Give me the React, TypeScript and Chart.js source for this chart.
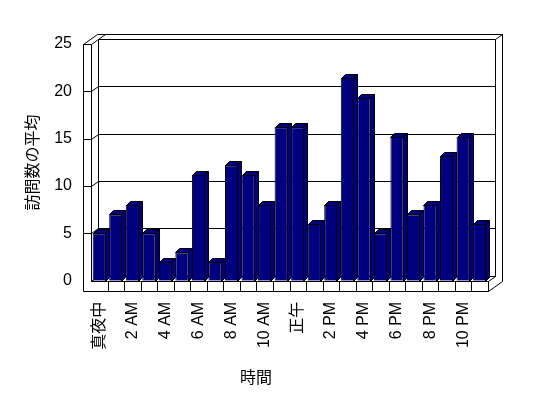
import React, { useEffect, useRef } from 'react';
import { Chart, registerables } from 'chart.js';

Chart.register(...registerables);

// ---- data ----
const hours = [
  '真夜中', '1 AM', '2 AM', '3 AM', '4 AM', '5 AM', '6 AM', '7 AM', '8 AM', '9 AM', '10 AM', '11 AM',
  '正午', '1 PM', '2 PM', '3 PM', '4 PM', '5 PM', '6 PM', '7 PM', '8 PM', '9 PM', '10 PM', '11 PM',
];
const visits = [5, 7, 8, 5, 2, 3, 11.2, 2, 12.2, 11.2, 8, 16.2, 16.2, 6, 8, 21.4, 19.3, 5, 15.2, 7, 8, 13.2, 15.2, 6];
const yMin = 0;
const yMax = 25;
const yStep = 5;
const yTitle = '訪問数の平均';
const xTitle = '時間';

// ---- style ----
const FONT = "'Liberation Sans', 'Noto Sans CJK JP', sans-serif";
const BAR = '#000080';
const WALL_D: [number, number] = [7, -5];
const BAR_D: [number, number] = [4, -4];
const WALL_W = 8;
const FLOOR_H = 10;

const px = (v: number) => Math.round(v) + 0.5;

const box3d = {
  id: 'box3d',
  beforeDatasetsDraw(chart: any) {
    const { ctx, chartArea, scales } = chart;
    const ys = scales.y;
    const xs = scales.x;
    const L = chartArea.left, R = chartArea.right, T = chartArea.top, B = chartArea.bottom;
    const [dx, dy] = WALL_D;
    const seg = (pts: number[][]) => {
      ctx.beginPath();
      ctx.moveTo(px(pts[0][0]), px(pts[0][1]));
      for (let i = 1; i < pts.length; i++) ctx.lineTo(px(pts[i][0]), px(pts[i][1]));
      ctx.stroke();
    };
    ctx.save();
    ctx.strokeStyle = '#000';
    ctx.lineWidth = 1;
    // front faces of left wall + floor
    seg([[L - WALL_W, T], [L - WALL_W, B + FLOOR_H], [R, B + FLOOR_H], [R, B]]);
    seg([[L - WALL_W, T], [L, T], [L, B], [R, B]]);
    // outer top / right outline
    seg([[L - WALL_W, T], [L - WALL_W + 2 * dx, T + 2 * dy], [R + 2 * dx, T + 2 * dy], [R + 2 * dx, B + FLOOR_H + 2 * dy], [R, B + FLOOR_H]]);
    seg([[L, T], [L + 2 * dx, T + 2 * dy]]);
    // back wall
    seg([[L + dx, T + dy], [R + dx, T + dy], [R + 2 * dx, T + 2 * dy]]);
    seg([[R + dx, T + dy], [R + dx, B + dy], [L + dx, B + dy], [L + dx, T + dy]]);
    seg([[L, B], [L + dx, B + dy]]);
    seg([[R, B], [R + dx, B + dy]]);
    // gridlines
    for (let v = yMin + yStep; v < yMax; v += yStep) {
      const yy = ys.getPixelForValue(v);
      seg([[L - WALL_W, yy], [L, yy], [L + dx, yy + dy], [R + dx, yy + dy]]);
    }
    // floor category dividers
    for (let i = 1; i < hours.length; i++) {
      const xx = (xs.getPixelForValue(i - 1) + xs.getPixelForValue(i)) / 2;
      seg([[xx, B], [xx, B + FLOOR_H]]);
    }
    ctx.restore();
  },
  afterDatasetsDraw(chart: any) {
    const { ctx } = chart;
    const meta = chart.getDatasetMeta(0);
    const [bx, by] = BAR_D;
    const poly = (pts: number[][]) => {
      ctx.beginPath();
      ctx.moveTo(pts[0][0], pts[0][1]);
      for (let i = 1; i < pts.length; i++) ctx.lineTo(pts[i][0], pts[i][1]);
      ctx.closePath();
      ctx.fill();
      ctx.stroke();
    };
    ctx.save();
    ctx.fillStyle = BAR;
    ctx.strokeStyle = '#000';
    ctx.lineWidth = 1;
    meta.data.forEach((bar: any) => {
      const { x, y, base, width } = bar.getProps(['x', 'y', 'base', 'width'], true);
      const l = Math.round(x - width / 2) + 0.5;
      const r = Math.round(x + width / 2) - 0.5;
      const t = Math.round(y) + 0.5;
      const b = Math.round(base) + 0.5;
      poly([[l, t], [r, t], [r + bx, t + by], [l + bx, t + by]]);
      poly([[r, t], [r + bx, t + by], [r + bx, b + by], [r, b]]);
    });
    ctx.restore();
  },
};

export default function App() {
  const ref = useRef<HTMLCanvasElement>(null);
  useEffect(() => {
    document.body.style.margin = '0';
    const chart = new Chart(ref.current as HTMLCanvasElement, {
      type: 'bar',
      data: {
        labels: hours,
        datasets: [
          {
            data: visits,
            backgroundColor: BAR,
            borderColor: '#000',
            borderWidth: 1,
            barPercentage: 0.8,
            categoryPercentage: 1,
          },
        ],
      },
      options: {
        responsive: false,
        animation: false,
        devicePixelRatio: 1,
        layout: { padding: { left: 24, right: 60, top: 44, bottom: 4 } },
        plugins: {
          legend: { display: false },
          tooltip: { enabled: false },
          title: {
            display: true,
            text: xTitle,
            position: 'bottom',
            color: '#000',
            font: { family: FONT, size: 16, weight: 'normal' },
            padding: { top: 6, bottom: 6 },
          },
        },
        scales: {
          x: {
            grid: { display: false, drawTicks: false },
            border: { display: false },
            ticks: {
              autoSkip: false,
              maxRotation: 90,
              minRotation: 90,
              padding: 21,
              color: '#000',
              font: { family: FONT, size: 16 },
              callback: (_v: any, i: number) => (i % 2 === 0 ? hours[i] : ''),
            },
            afterFit: (s: any) => {
              s.height = 82;
            },
          },
          y: {
            min: yMin,
            max: yMax,
            grid: { display: false, drawTicks: false },
            border: { display: false },
            ticks: {
              stepSize: yStep,
              padding: 19,
              color: '#000',
              font: { family: FONT, size: 16 },
            },
            title: {
              display: true,
              text: yTitle,
              color: '#000',
              font: { family: FONT, size: 16 },
              padding: 0,
            },
            afterFit: (s: any) => {
              s.width = 67;
            },
          },
        },
      },
      plugins: [box3d],
    } as any);
    return () => chart.destroy();
  }, []);
  return (
    <div style={{ width: 548, height: 398 }}>
      <canvas ref={ref} width={548} height={398} style={{ display: 'block' }} />
    </div>
  );
}
